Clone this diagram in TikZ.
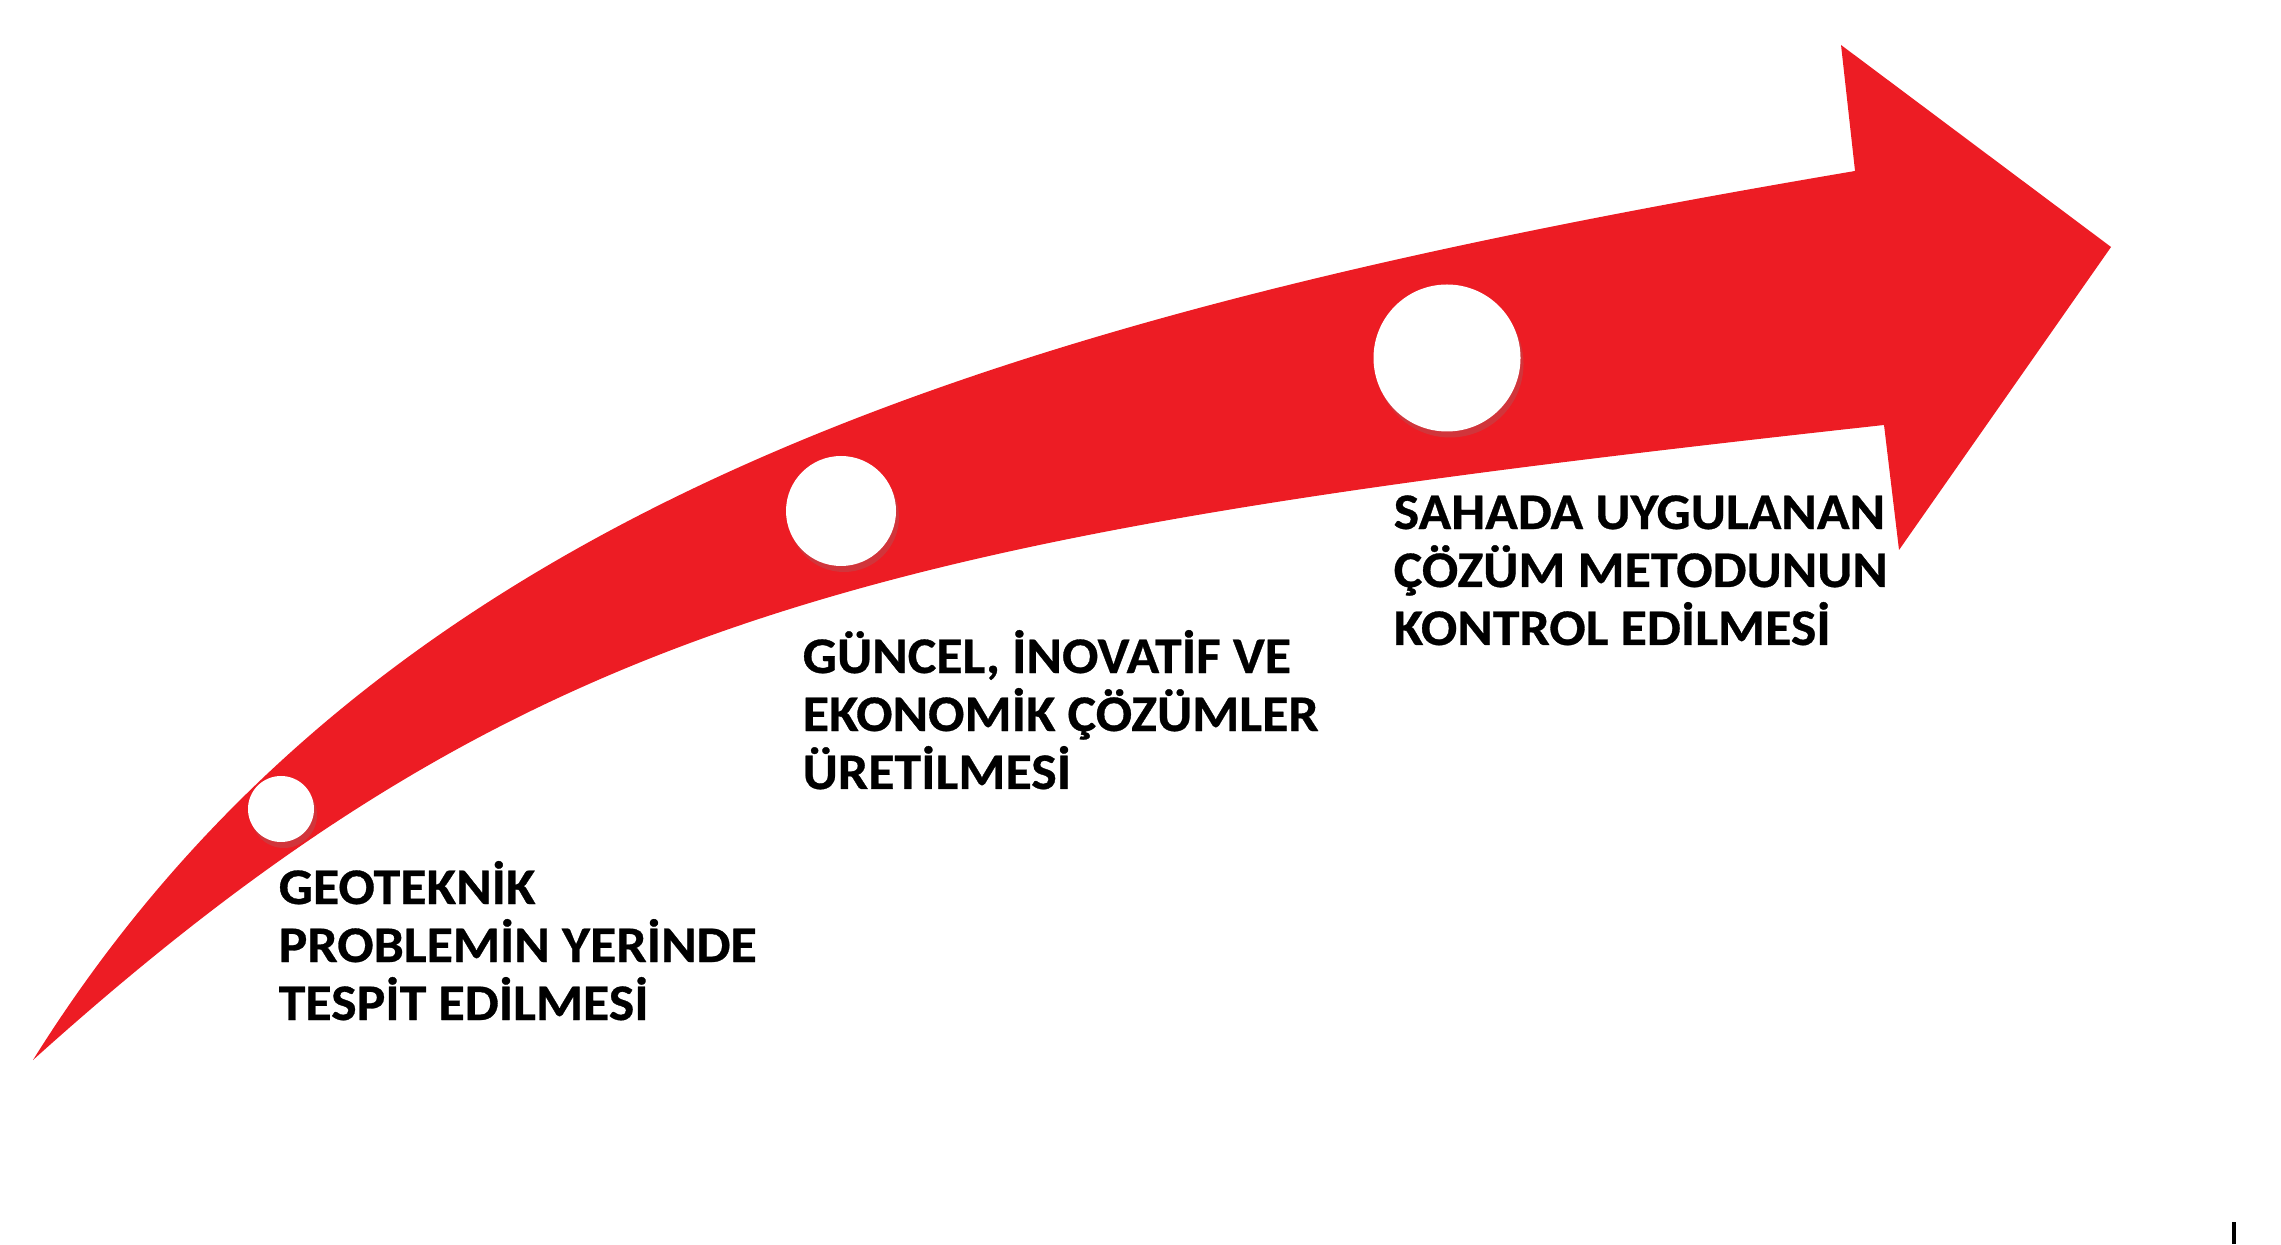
\documentclass[tikz,border=0pt]{standalone}
\usepackage{fontspec}
\setmainfont{Carlito}[FakeStretch=1.05, BoldFeatures={FakeBold=0.6}]
\usetikzlibrary{shadows}
\definecolor{arrowred}{HTML}{ED1C24}

\tikzset{
  DotStyle/.style={circle, fill=white, inner sep=0pt,
    drop shadow={shadow xshift=0.03, shadow yshift=-0.06, opacity=0.25}},
  TextStyle/.style={anchor=base west, align=left, inner sep=0pt,
    font=\fontsize{14.6}{16.5}\selectfont\bfseries}
}

\begin{document}
\begin{tikzpicture}
  \useasboundingbox (0,0) rectangle (22.81,12.44);
  % arrow
  \coordinate (tail) at (0.33,1.84);
  \coordinate (up) at (18.55,10.73);
  \coordinate (top) at (18.41,11.99);
  \coordinate (tip) at (21.11,9.97);
  \coordinate (bot) at (18.99,6.94);
  \coordinate (low) at (18.84,8.19);
  \fill[arrowred] (tail) .. controls (3.83,7.44) and (10.05,9.29) .. (up)
    -- (top) -- (tip) -- (bot) -- (low)
    .. controls (8.84,7.09) and (5.33,6.34) .. (tail) -- cycle;
  % steps
  \node[DotStyle, minimum size=0.66cm] (A) at (2.81,4.35) {};
  \node[DotStyle, minimum size=1.10cm] (B) at (8.41,7.33) {};
  \node[DotStyle, minimum size=1.47cm] (C) at (14.47,8.86) {};
  \node[TextStyle] (TA) at (2.78,2.24) {GEOTEKNİK\\PROBLEMİN YERİNDE\\TESPİT EDİLMESİ};
  \node[TextStyle] (TB) at (8.02,4.55) {GÜNCEL, İNOVATİF VE\\EKONOMİK ÇÖZÜMLER\\ÜRETİLMESİ};
  \node[TextStyle] (TC) at (13.93,5.99) {SAHADA UYGULANAN\\ÇÖZÜM METODUNUN\\KONTROL EDİLMESİ};
  \fill (22.32,0) rectangle (22.36,0.22);
\end{tikzpicture}
\end{document}
